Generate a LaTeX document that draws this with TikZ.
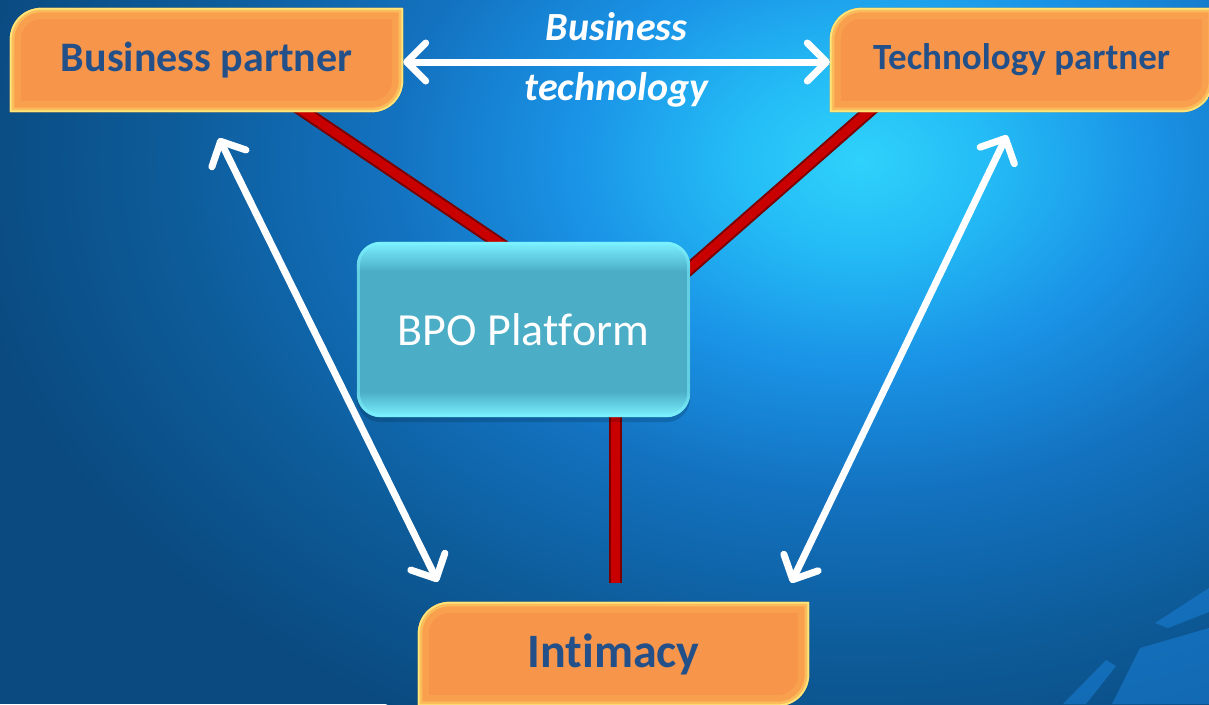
\documentclass[tikz,border=0pt]{standalone}
\usepackage{fontspec}
\setmainfont{Carlito}[Ligatures=NoCommon, RawFeature={-liga;-dlig;-clig}]
\usetikzlibrary{arrows.meta,calc}

\definecolor{boxtext}{HTML}{24508A}
\definecolor{orangefill}{HTML}{F7964A}
\definecolor{rimA}{HTML}{FBB152}
\definecolor{rimB}{HTML}{FDD066}
\definecolor{rimC}{HTML}{FFE67A}
\definecolor{tealfill}{HTML}{4BADC6}
\definecolor{cyanrim}{HTML}{7CF2FF}
\definecolor{linkred}{HTML}{C80000}
\definecolor{linkdark}{HTML}{7A0000}
\definecolor{glow0}{HTML}{2FD2FB}
\definecolor{glow1}{HTML}{24BCF6}
\definecolor{glow2}{HTML}{1A93E6}
\definecolor{glow3}{HTML}{1372C0}
\definecolor{glow4}{HTML}{0D5C9A}
\definecolor{glow5}{HTML}{0A4A80}
\definecolor{streak}{HTML}{1A80D8}

% radial glow; 25bp is the rim of the shaded path
\pgfdeclareradialshading{bgglow}{\pgfpoint{0bp}{0bp}}{%
  color(0bp)=(glow0); color(3.5bp)=(glow1); color(8bp)=(glow2);
  color(13bp)=(glow3); color(19bp)=(glow4); color(25bp)=(glow5); color(50bp)=(glow5)}

\pgfdeclarelayer{bg}
\pgfdeclarelayer{links}
\pgfdeclarelayer{boxes}
\pgfsetlayers{bg,links,boxes,main}

\tikzset{
  slab/.style={font=\bfseries, text=boxtext, inner sep=0pt},
  platform/.style={text=white, inner sep=0pt, font=\fontsize{46}{46}\selectfont},
  slabpath/.style={insert path={
    (#1.south west) -- ($(#1.north west)+(0,32)$)
    .. controls ($(#1.north west)+(0,14)$) and ($(#1.north west)+(14,0)$) .. ($(#1.north west)+(32,0)$)
    -- (#1.north east) -- ($(#1.south east)+(0,-32)$)
    .. controls ($(#1.south east)+(0,-14)$) and ($(#1.south east)+(-14,0)$) .. ($(#1.south east)+(-32,0)$)
    -- cycle}},
  redlink/.style={draw=linkdark, line width=2pt, double=linkred, double distance=9pt,
    shorten <=-16pt, shorten >=-16pt},
  whitearrow/.style={draw=white, line width=7pt,
    {Straight Barb[round,length=19pt,width=38pt]}-{Straight Barb[round,length=19pt,width=38pt]}},
}

% orange slab: shadow, flat body and an inner glow along its rim
\newcommand\drawslab[1]{%
  \begin{scope}[yshift=-5pt]
    \fill[black, opacity=.18, slabpath=#1];
  \end{scope}
  \begin{scope}
    \clip[slabpath=#1];
    \fill[orangefill, slabpath=#1];
    \draw[rimA, line width=22pt, opacity=.4, slabpath=#1];
    \draw[rimB, line width=9pt, opacity=.6, slabpath=#1];
    \draw[rimC, line width=3.5pt, slabpath=#1];
  \end{scope}}

\begin{document}
\begin{tikzpicture}[x=1pt,y=-1pt]
\useasboundingbox (0,0) rectangle (1209,704);

% backdrop
\begin{pgfonlayer}{bg}
  \begin{scope}
    \clip (0,0) rectangle (1209,704);
    \fill[glow5] (0,0) rectangle (1209,704);
    \shade[shading=bgglow] (860,160) ellipse [x radius=900, y radius=640];
    \fill[streak, opacity=.55] (1063,704) -- (1106,660) -- (1116,666) -- (1086,704) -- cycle;
    \fill[streak, opacity=.55] (1112,704) -- (1140,648) -- (1209,628) -- (1209,704) -- cycle;
    \fill[streak, opacity=.55] (1155,623) -- (1209,588) -- (1209,612) -- (1168,628) -- cycle;
  \end{scope}
\end{pgfonlayer}

% nodes
\node[slab, font=\bfseries\fontsize{42}{42}\selectfont, minimum width=393pt, minimum height=104pt]
  (bp) at (206.5,60) {Business partner};
\node[slab, font=\bfseries\fontsize{37}{37}\selectfont, minimum width=383pt, minimum height=104pt]
  (tp) at (1021.5,60) {Technology partner};
\node[slab, font=\bfseries\fontsize{48}{48}\selectfont, minimum width=391pt, minimum height=104pt]
  (im) at (613.5,654) {Int\kern0pt imacy};
\node[platform, minimum width=333pt, minimum height=175pt]
  (bpo) at (523.5,329.5) {BPO Plat\kern0pt form};

% box bodies
\begin{pgfonlayer}{boxes}
  \drawslab{bp}
  \drawslab{tp}
  \drawslab{im}
  \fill[black, opacity=.15, rounded corners=24pt]
    ([yshift=-5pt]bpo.north west) rectangle ([yshift=-5pt]bpo.south east);
  \begin{scope}
    \clip[rounded corners=24pt] (bpo.north west) rectangle (bpo.south east);
    \fill[tealfill] (bpo.north west) rectangle (bpo.south east);
    \shade[top color=cyanrim, bottom color=tealfill]
      (bpo.north west) rectangle ($(bpo.north east)+(0,30)$);
    \shade[top color=tealfill, bottom color=cyanrim]
      ($(bpo.south west)+(0,-26)$) rectangle (bpo.south east);
    \draw[cyanrim, line width=6pt, opacity=.5, rounded corners=24pt]
      (bpo.north west) rectangle (bpo.south east);
  \end{scope}
\end{pgfonlayer}

% red links behind the boxes
\begin{pgfonlayer}{links}
  \draw[redlink] ([xshift=98.5pt]bp.south) -- ([xshift=-26.5pt]bpo.north);
  \draw[redlink] ([xshift=-153.5pt]tp.south) -- ([yshift=61.5pt]bpo.east);
  \draw[redlink, shorten >=0pt] ([xshift=91.5pt]bpo.south) -- ([xshift=1.5pt,yshift=19pt]im.north);
\end{pgfonlayer}

% white two-way arrows
\coordinate (lt) at ([xshift=12.5pt,yshift=-26pt]bp.south);
\coordinate (lb) at ([xshift=20pt,yshift=20pt]im.north west);
\coordinate (rt) at ([xshift=-14.5pt,yshift=-23pt]tp.south);
\coordinate (rb) at ([xshift=-18pt,yshift=19pt]im.north east);

\draw[whitearrow] ([yshift=-2pt]bp.east) -- ([yshift=-2pt]tp.west)
  node[midway, yshift=2pt, text=white, align=center,
       font=\bfseries\itshape\fontsize{40}{60}\selectfont] (bt) {Business\\technology};
\draw[whitearrow] (lt) -- (lb);
\draw[whitearrow] (rt) -- (rb);
\end{tikzpicture}
\end{document}
